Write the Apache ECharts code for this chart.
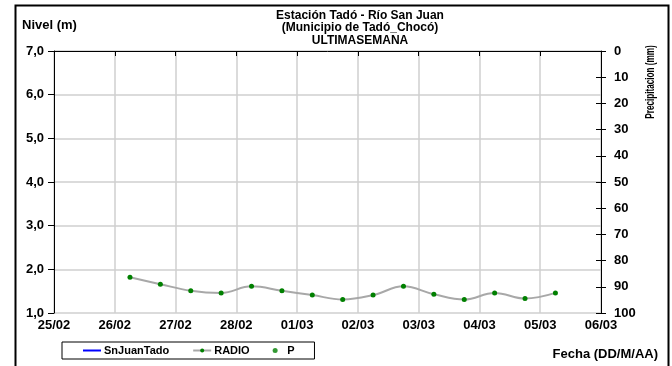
<!DOCTYPE html>
<html><head><meta charset="utf-8">
<script src="https://cdn.jsdelivr.net/npm/echarts@6/dist/echarts.min.js"></script>
<style>html,body{margin:0;padding:0;background:#fff}#c{width:672px;height:366px}</style>
</head><body><div id="c"></div>
<script>
const tickLabels = ['25/02','26/02','27/02','28/02','01/03','02/03','03/03','04/03','05/03','06/03'];
const baseTime = '2015-02-25T00:00';
const times = ['2015-02-26T06:00','2015-02-26T18:00','2015-02-27T06:00','2015-02-27T18:00','2015-02-28T06:00','2015-02-28T18:00','2015-03-01T06:00','2015-03-01T18:00','2015-03-02T06:00','2015-03-02T18:00','2015-03-03T06:00','2015-03-03T18:00','2015-03-04T06:00','2015-03-04T18:00','2015-03-05T06:00'];
const radio = [1.82,1.66,1.51,1.46,1.61,1.51,1.41,1.31,1.41,1.61,1.43,1.31,1.46,1.33,1.46];
const snJuanTado = [];
const precip = [];

const DAY = 86400000;
const t0 = new Date(baseTime).getTime();
const toDay = s => (new Date(s).getTime() - t0) / DAY;
const radioData = times.map((t, i) => [toDay(t), radio[i]]);

const FONT = '"Liberation Sans", Arial, sans-serif';
const lbl = {color:'#000', fontWeight:'bold', fontSize:13, fontFamily:FONT};
const chart = echarts.init(document.getElementById('c'), null, {renderer:'canvas'});
chart.setOption({
  animation:false,
  backgroundColor:'#fff',
  textStyle:{fontFamily:FONT},
  title:{
    text:'Estación Tadó - Río San Juan\n(Municipio de Tadó_Chocó)\nULTIMASEMANA',
    left:355, top:4, textAlign:'center',
    textStyle:{fontSize:12, fontWeight:'bold', color:'#000', lineHeight:12.5, fontFamily:FONT}
  },
  legend:{
    left:62, top:342, orient:'horizontal',
    borderColor:'#000', borderWidth:1, borderRadius:0,
    padding:[3,20,3,20], itemGap:23, itemWidth:18, itemHeight:5,
    textStyle:{fontSize:11, fontWeight:'bold', color:'#000', fontFamily:FONT, padding:[0,0,0,-2]},
    data:[{name:'SnJuanTado', itemStyle:{opacity:0}}, 'RADIO', 'P']
  },
  grid:{left:54, right:71, top:51, bottom:53, containLabel:false},
  xAxis:{
    type:'value', min:0, max:9, interval:1,
    axisLine:{lineStyle:{color:'#000', width:1}},
    axisTick:{show:true, length:5, lineStyle:{color:'#000'}},
    axisLabel:Object.assign({margin:6, formatter:v => tickLabels[v]}, lbl),
    splitLine:{show:true, lineStyle:{color:'#cfcfcf', width:1.5}}
  },
  yAxis:[
    {type:'value', min:1, max:7, interval:1, position:'left',
     axisLine:{show:true, lineStyle:{color:'#000'}},
     axisTick:{show:true, length:6, lineStyle:{color:'#000'}},
     axisLabel:Object.assign({margin:10, formatter:v => v.toFixed(1).replace('.',',')}, lbl),
     splitLine:{show:true, lineStyle:{color:'#cfcfcf', width:1.5}}},
    {type:'value', min:0, max:100, interval:10, position:'right', inverse:true,
     axisLine:{show:true, lineStyle:{color:'#000'}},
     axisTick:{show:true, length:5, lineStyle:{color:'#000'}},
     axisLabel:Object.assign({margin:13}, lbl),
     splitLine:{show:false}},
    {type:'value', min:0, max:100, interval:10, position:'right', inverse:true,
     axisLine:{show:false},
     axisTick:{show:true, inside:true, length:5, lineStyle:{color:'#000'}},
     axisLabel:{show:false},
     splitLine:{show:false}}
  ],
  series:[
    {name:'SnJuanTado', type:'line', data:snJuanTado, symbol:'none',
     lineStyle:{color:'#0000ff', width:2}, itemStyle:{color:'#0000ff'}},
    {name:'RADIO', type:'line', data:radioData, smooth:0.4, symbol:'circle', symbolSize:5,
     lineStyle:{color:'#a8a8a8', width:2}, itemStyle:{color:'#008000'}},
    {name:'P', type:'scatter', yAxisIndex:1, data:precip, symbol:'circle', symbolSize:4,
     itemStyle:{color:'#008000'}}
  ],
  graphic:[
    {type:'rect', left:13, top:3, shape:{width:653, height:370}, style:{fill:'none', stroke:'#000', lineWidth:2}, silent:true, z:-1},
    {type:'text', left:22, top:19, style:{text:'Nivel (m)', font:'bold 13px '+FONT, fill:'#000'}},
    {type:'text', x:651, y:82, rotation:Math.PI/2, scaleX:0.68, style:{text:'Precipitacion (mm)', font:'bold 12px '+FONT, fill:'#000', align:'center', verticalAlign:'middle'}},
    {type:'text', x:658, y:354, style:{text:'Fecha (DD/M/AA)', font:'bold 13px '+FONT, fill:'#000', align:'right', verticalAlign:'middle'}}
  ]
});
</script></body></html>
